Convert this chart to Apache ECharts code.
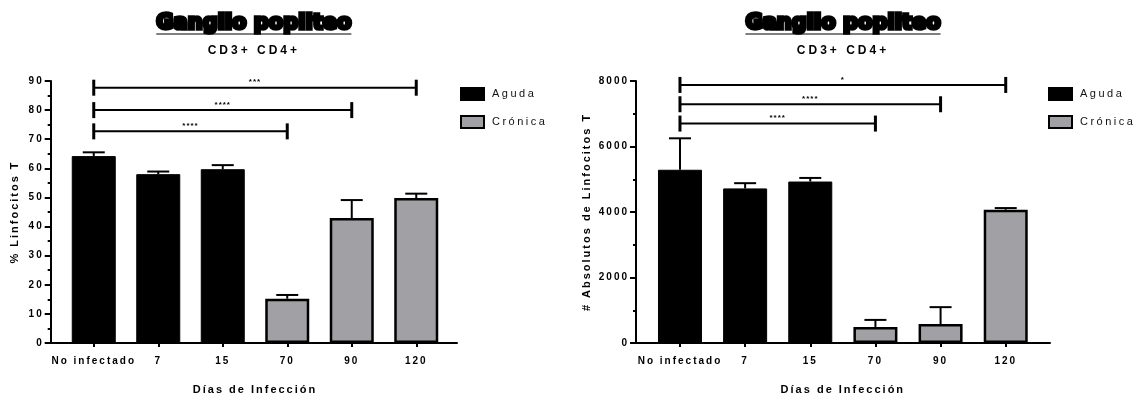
<!DOCTYPE html>
<html><head><meta charset="utf-8">
<script src="https://cdn.jsdelivr.net/npm/echarts@6/dist/echarts.min.js"></script>
<style>html,body{margin:0;padding:0;background:#fff}#c{width:1138px;height:396px}</style>
</head><body><div id="c"></div>
<script>
// ---------- data ----------
const categories = ['No infectado', '7', '15', '70', '90', '120'];
const seriesNames = ['Aguda', 'Crónica'];
const titleText = 'Ganglio popliteo';
const subtitleText = 'CD3+ CD4+';
const xAxisName = 'Días de Infección';

const pctName = '% Linfocitos T';
const pctAguda = [64.2, 58.0, 59.7, null, null, null];
const pctCronica = [null, null, null, 15.2, 42.9, 49.8];
const pctError = [1.3, 0.9, 1.4, 1.3, 6.2, 1.5];
const pctBrackets = [[0, 5, 87.7], [0, 4, 80.0], [0, 3, 72.7]];
const pctStars = ['***', '****', '****'];
const pctAxis = [0, 90, 10];

const absName = '# Absolutos de Linfocitos T';
const absAguda = [5290, 4720, 4930, null, null, null];
const absCronica = [null, null, null, 490, 580, 4070];
const absError = [960, 160, 110, 215, 515, 50];
const absBrackets = [[0, 5, 7880], [0, 4, 7290], [0, 3, 6700]];
const absStars = ['*', '****', '****'];
const absAxis = [0, 8000, 2000];

// ---------- letter spacing for canvas text ----------
(function () {
  const P = CanvasRenderingContext2D.prototype;
  const d = Object.getOwnPropertyDescriptor(P, 'font');
  if (!d || !('letterSpacing' in P)) return;
  Object.defineProperty(P, 'font', {
    configurable: true,
    get() { return d.get.call(this); },
    set(v) {
      d.set.call(this, v);
      const m = /(\d+(?:\.\d+)?)px/.exec(v);
      const s = m ? +m[1] : 12;
      let ls = '0px';
      if (s < 18) ls = /bold|[6-9]00/.test(v) ? '2px' : '2.5px';
      if (s === 8) ls = '1px';
      if (s === 12) ls = '3px';
      this.letterSpacing = ls;
    }
  });
})();

const FONT = 'Liberation Sans';
const TITLE_FONT = 'bold 21px "DejaVu Sans"';
const GRID_TOP = 81, GRID_H = 262;

function chartParts(k, cfg) {
  const xo = 2 * k, xi = 2 * k + 1;
  const values = cfg.aguda.map((v, i) => v != null ? v : cfg.cronica[i]);
  const grids = [
    { left: cfg.outerLeft, width: cfg.outerWidth, top: GRID_TOP, height: GRID_H, containLabel: false, outerBoundsMode: 'none' },
    { left: cfg.innerLeft, width: cfg.innerWidth, top: GRID_TOP, height: GRID_H, containLabel: false, outerBoundsMode: 'none' }
  ];
  const xAxes = [
    { type: 'value', gridIndex: xo, min: 0, max: 1, axisLine: { show: true, onZero: false, lineStyle: { color: '#000', width: 2 } },
      axisTick: { show: false }, axisLabel: { show: false }, splitLine: { show: false } },
    { type: 'category', gridIndex: xo + 1, data: categories, boundaryGap: true,
      axisLine: { show: false }, axisTick: { show: true, alignWithLabel: true, length: 4, lineStyle: { color: '#000', width: 2 } },
      axisLabel: { interval: 0, hideOverlap: false, margin: 12, color: '#000', fontWeight: 'bold', fontSize: 10, fontFamily: FONT },
      name: xAxisName, nameLocation: 'middle', nameGap: 40,
      nameTextStyle: { color: '#000', fontWeight: 'bold', fontSize: 11, fontFamily: FONT },
      splitLine: { show: false } }
  ];
  const yAxes = [
    { type: 'value', gridIndex: xo, min: cfg.axis[0], max: cfg.axis[1], interval: cfg.axis[2],
      axisLine: { show: true, lineStyle: { color: '#000', width: 2 } },
      axisTick: { show: true, length: 6, lineStyle: { color: '#000', width: 2 } },
      minorTick: { show: true, splitNumber: 2, length: 3, lineStyle: { color: '#000', width: 2 } },
      axisLabel: { margin: 7, color: '#000', fontWeight: 'bold', fontSize: 10, fontFamily: FONT, formatter: (v) => String(v) },
      splitLine: { show: false }, minorSplitLine: { show: false },
      name: cfg.name, nameLocation: 'middle', nameGap: cfg.nameGap, nameRotate: 90,
      nameTextStyle: { color: '#000', fontWeight: 'bold', fontSize: 11, fontFamily: FONT } },
    { type: 'value', gridIndex: xo + 1, min: cfg.axis[0], max: cfg.axis[1], interval: cfg.axis[2], show: false }
  ];
  const series = [
    { name: seriesNames[0], type: 'bar', xAxisIndex: xi, yAxisIndex: xi, data: cfg.aguda, barWidth: 44, barGap: '-100%',
      itemStyle: { color: '#000', borderColor: '#000', borderWidth: 1 }, z: 2, silent: true },
    { name: seriesNames[1], type: 'bar', xAxisIndex: xi, yAxisIndex: xi, data: cfg.cronica, barWidth: 44, barGap: '-100%',
      itemStyle: { color: '#a1a1a5', borderColor: '#000', borderWidth: 2.5 }, z: 2, silent: true },
    { type: 'custom', xAxisIndex: xi, yAxisIndex: xi, z: 3, silent: true,
      data: values.map((v, i) => [i, v, cfg.err[i]]),
      encode: { x: 0, y: 1 },
      renderItem(params, api) {
        const x = api.value(0), v = api.value(1), e = api.value(2);
        const p0 = api.coord([x, v]), p1 = api.coord([x, v + e]);
        return { type: 'group', children: [
          { type: 'line', shape: { x1: p0[0], y1: p0[1], x2: p1[0], y2: p1[1] }, style: { stroke: '#000', lineWidth: 2 } },
          { type: 'line', shape: { x1: p1[0] - 11, y1: p1[1], x2: p1[0] + 11, y2: p1[1] }, style: { stroke: '#000', lineWidth: 2 } }
        ] };
      } },
    { type: 'custom', xAxisIndex: xi, yAxisIndex: xi, z: 4, silent: true,
      data: cfg.brackets, encode: { x: [0, 1], y: 2 },
      renderItem(params, api) {
        const s = api.coord([api.value(0), api.value(2)]);
        const e = api.coord([api.value(1), api.value(2)]);
        return { type: 'group', children: [
          { type: 'line', shape: { x1: s[0], y1: s[1], x2: e[0], y2: e[1] }, style: { stroke: '#000', lineWidth: 2 } },
          { type: 'line', shape: { x1: s[0], y1: s[1] - 8, x2: s[0], y2: s[1] + 8 }, style: { stroke: '#000', lineWidth: 3 } },
          { type: 'line', shape: { x1: e[0], y1: e[1] - 8, x2: e[0], y2: e[1] + 8 }, style: { stroke: '#000', lineWidth: 3 } },
          { type: 'text', x: (s[0] + e[0]) / 2, y: s[1] - 1,
            style: { text: cfg.stars[params.dataIndex], textAlign: 'center', textVerticalAlign: 'bottom', font: 'bold 8px ' + FONT, fill: '#000' } }
        ] };
      } }
  ];
  const legend = { data: seriesNames, orient: 'vertical', left: cfg.legendLeft, top: 87, padding: 0,
    itemWidth: 23, itemHeight: 12, itemGap: 14, selectedMode: false, icon: 'rect',
    textStyle: { color: '#111', fontSize: 11, fontFamily: FONT, padding: [0, 0, 0, 3] } };
  const center = cfg.outerLeft + cfg.outerWidth / 2;
  const meas = document.createElement('canvas').getContext('2d');
  meas.font = TITLE_FONT;
  const tw = meas.measureText(titleText).width;
  const graphics = [
    { type: 'text', x: center, y: 24, silent: true,
      style: { text: titleText, textAlign: 'center', textVerticalAlign: 'middle', font: TITLE_FONT, fill: '#000', stroke: '#000', lineWidth: 3.5 } },
    { type: 'line', silent: true, shape: { x1: center - tw / 2, y1: 34, x2: center + tw / 2, y2: 34 }, style: { stroke: '#000', lineWidth: 1 } },
    { type: 'text', x: center, y: 51, silent: true,
      style: { text: subtitleText, textAlign: 'center', textVerticalAlign: 'middle', font: 'bold 12px ' + FONT, fill: '#000' } }
  ];
  return { grids, xAxes, yAxes, series, legend, graphics };
}

const left = chartParts(0, { aguda: pctAguda, cronica: pctCronica, err: pctError, brackets: pctBrackets, stars: pctStars,
  axis: pctAxis, name: pctName, nameGap: 29, outerLeft: 50.7, outerWidth: 406.3, innerLeft: 61.5, innerWidth: 387, legendLeft: 460 });
const right = chartParts(1, { aguda: absAguda, cronica: absCronica, err: absError, brackets: absBrackets, stars: absStars,
  axis: absAxis, name: absName, nameGap: 43, outerLeft: 636, outerWidth: 414, innerLeft: 647.4, innerWidth: 390.9, legendLeft: 1048 });

const chart = echarts.init(document.getElementById('c'), null, { renderer: 'canvas' });
chart.setOption({
  animation: false,
  backgroundColor: '#fff',
  textStyle: { fontFamily: FONT },
  grid: [...left.grids, ...right.grids],
  xAxis: [...left.xAxes, ...right.xAxes],
  yAxis: [...left.yAxes, ...right.yAxes],
  legend: [left.legend, right.legend],
  series: [...left.series, ...right.series],
  graphic: [...left.graphics, ...right.graphics]
});
</script></body></html>
